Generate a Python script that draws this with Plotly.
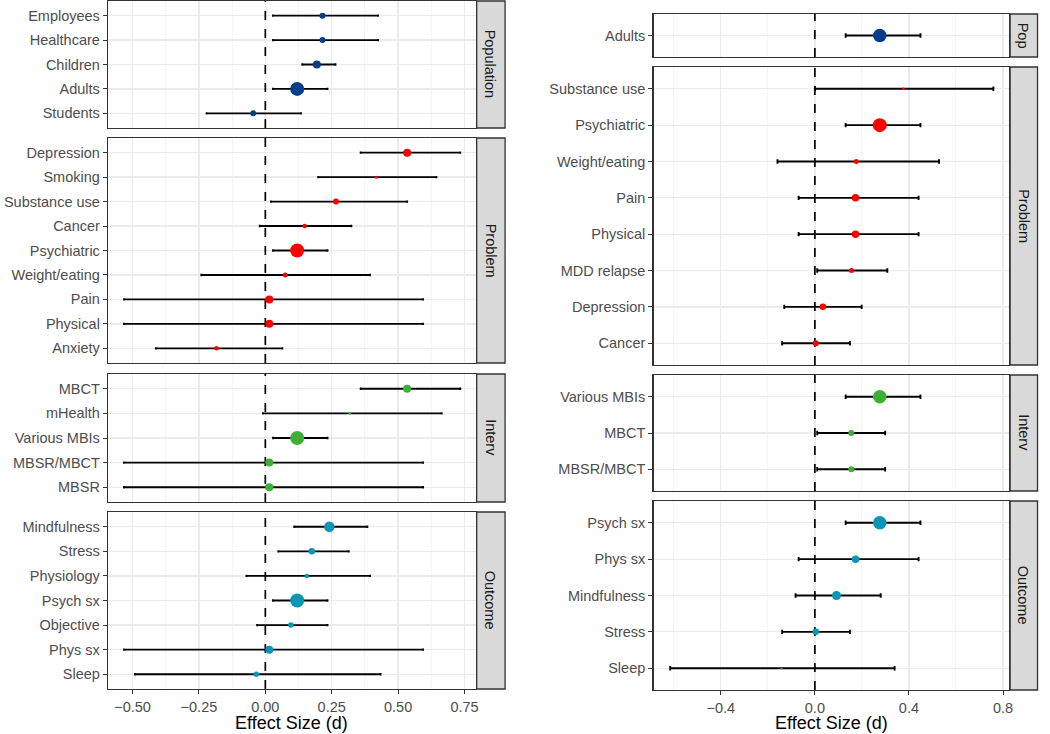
import plotly.graph_objects as go

# ---------------- data: left column ----------------
L_facets = ["Population", "Problem", "Interv", "Outcome"]

L_pop_cat = ["Employees", "Healthcare", "Children", "Adults", "Students"]
L_pop_d = [0.215, 0.215, 0.194, 0.12, -0.045]
L_pop_lo = [0.029, 0.029, 0.139, 0.029, -0.221]
L_pop_hi = [0.424, 0.424, 0.264, 0.234, 0.134]
L_pop_w = [6, 6, 8, 14, 6]

L_prob_cat = ["Depression", "Smoking", "Substance use", "Cancer", "Psychiatric",
              "Weight/eating", "Pain", "Physical", "Anxiety"]
L_prob_d = [0.534, 0.418, 0.266, 0.148, 0.12, 0.075, 0.015, 0.015, -0.184]
L_prob_lo = [0.359, 0.199, 0.021, -0.021, 0.029, -0.241, -0.532, -0.532, -0.412]
L_prob_hi = [0.734, 0.644, 0.534, 0.324, 0.234, 0.394, 0.594, 0.594, 0.064]
L_prob_w = [8, 3, 6, 4.5, 14, 5, 8, 8, 4.5]

L_int_cat = ["MBCT", "mHealth", "Various MBIs", "MBSR/MBCT", "MBSR"]
L_int_d = [0.534, 0.319, 0.12, 0.015, 0.015]
L_int_lo = [0.359, -0.009, 0.029, -0.532, -0.532]
L_int_hi = [0.734, 0.664, 0.234, 0.594, 0.594]
L_int_w = [8, 2.5, 14, 8, 8]

L_out_cat = ["Mindfulness", "Stress", "Physiology", "Psych sx", "Objective", "Phys sx", "Sleep"]
L_out_d = [0.241, 0.175, 0.156, 0.12, 0.096, 0.015, -0.034]
L_out_lo = [0.109, 0.049, -0.071, 0.029, -0.031, -0.532, -0.491]
L_out_hi = [0.384, 0.314, 0.394, 0.234, 0.234, 0.594, 0.434]
L_out_w = [10.5, 6.5, 4.5, 14, 5.5, 8, 5.5]

L_ticks = [-0.5, -0.25, 0.0, 0.25, 0.5, 0.75]
L_ticktext = ["\u22120.50", "\u22120.25", "0.00", "0.25", "0.50", "0.75"]

# ---------------- data: right column ----------------
R_facets = ["Pop", "Problem", "Interv", "Outcome"]

R_pop_cat = ["Adults"]
R_pop_d = [0.276]
R_pop_lo = [0.131]
R_pop_hi = [0.449]
R_pop_w = [13.5]

R_prob_cat = ["Substance use", "Psychiatric", "Weight/eating", "Pain", "Physical",
              "MDD relapse", "Depression", "Cancer"]
R_prob_d = [0.376, 0.276, 0.176, 0.173, 0.173, 0.156, 0.034, 0.004]
R_prob_lo = [0.0, 0.131, -0.159, -0.069, -0.069, 0.010, -0.130, -0.139]
R_prob_hi = [0.759, 0.449, 0.528, 0.441, 0.441, 0.308, 0.199, 0.149]
R_prob_w = [2.5, 14, 5, 7.5, 7.5, 5, 6.5, 6]

R_int_cat = ["Various MBIs", "MBCT", "MBSR/MBCT"]
R_int_d = [0.276, 0.155, 0.155]
R_int_lo = [0.131, 0.010, 0.010]
R_int_hi = [0.449, 0.299, 0.299]
R_int_w = [13.5, 6, 6]

R_out_cat = ["Psych sx", "Phys sx", "Mindfulness", "Stress", "Sleep"]
R_out_d = [0.276, 0.173, 0.092, 0.004, -0.142]
R_out_lo = [0.131, -0.069, -0.082, -0.139, -0.615]
R_out_hi = [0.449, 0.441, 0.280, 0.149, 0.339]
R_out_w = [13.5, 7.5, 9, 6.5, 2]

R_ticks = [-0.4, 0.0, 0.4, 0.8]
R_ticktext = ["\u22120.4", "0.0", "0.4", "0.8"]

facet_colors = ["#023e8a", "#ff0000", "#3cb035", "#0996b4"]

# ---------------- layout geometry (px) ----------------
W, H = 1050, 734
FONT = "Liberation Sans, Arial, sans-serif"

columns = [
    dict(
        facets=L_facets,
        panels=[
            (L_pop_cat, L_pop_d, L_pop_lo, L_pop_hi, L_pop_w),
            (L_prob_cat, L_prob_d, L_prob_lo, L_prob_hi, L_prob_w),
            (L_int_cat, L_int_d, L_int_lo, L_int_hi, L_int_w),
            (L_out_cat, L_out_d, L_out_lo, L_out_hi, L_out_w),
        ],
        x0=108.5, x1=477.5, sx1=507.0,
        ybounds=[(1, 128), (138, 363), (374, 502), (512, 689)],
        xrange=[-0.592, 0.792], ticks=L_ticks, ticktext=L_ticktext,
        dtick=0.25, cap=1.2,
    ),
    dict(
        facets=R_facets,
        panels=[
            (R_pop_cat, R_pop_d, R_pop_lo, R_pop_hi, R_pop_w),
            (R_prob_cat, R_prob_d, R_prob_lo, R_prob_hi, R_prob_w),
            (R_int_cat, R_int_d, R_int_lo, R_int_hi, R_int_w),
            (R_out_cat, R_out_d, R_out_lo, R_out_hi, R_out_w),
        ],
        x0=656.0, x1=1013.0, sx1=1041.5,
        ybounds=[(14, 57), (67, 365), (375, 491), (501, 690)],
        xrange=[-0.686, 0.826], ticks=R_ticks, ticktext=R_ticktext,
        dtick=0.4, cap=2.2,
    ),
]

fig = go.Figure()
layout = dict(
    width=W, height=H,
    margin=dict(l=0, r=0, t=0, b=0),
    paper_bgcolor="white", plot_bgcolor="white",
    showlegend=False,
    font=dict(family=FONT),
)
shapes = []
annotations = []

idx = 0
for col in columns:
    for p, (cats, d, lo, hi, w) in enumerate(col["panels"]):
        idx += 1
        xa = "xaxis" if idx == 1 else f"xaxis{idx}"
        ya = "yaxis" if idx == 1 else f"yaxis{idx}"
        xr = "x" if idx == 1 else f"x{idx}"
        yr = "y" if idx == 1 else f"y{idx}"
        top, bot = col["ybounds"][p]
        n = len(cats)
        ypos = [n - 1 - i for i in range(n)]  # first category at top
        is_bottom = p == len(col["panels"]) - 1

        layout[xa] = dict(
            domain=[col["x0"] / W, col["x1"] / W],
            anchor=yr,
            range=col["xrange"],
            tickmode="array", tickvals=col["ticks"], ticktext=col["ticktext"],
            showticklabels=is_bottom,
            ticks="outside" if is_bottom else "", ticklen=4, tickcolor="#333333", tickwidth=1,
            tickfont=dict(size=14.5, color="#4d4d4d", family=FONT),
            showgrid=True, gridcolor="#ebebeb", gridwidth=1.3,
            minor=dict(showgrid=True, gridcolor="#f2f2f2", gridwidth=0.8,
                       tick0=0, dtick=col["dtick"] / 2),
            showline=True, mirror=True, linecolor="#333333", linewidth=1.3,
            zeroline=False, fixedrange=True,
        )
        layout[ya] = dict(
            domain=[1 - bot / H, 1 - top / H],
            anchor=xr,
            range=[-0.6, n - 0.4],
            tickmode="array", tickvals=ypos, ticktext=cats,
            ticks="outside", ticklen=4, tickcolor="#333333", tickwidth=1,
            tickfont=dict(size=14.5, color="#4d4d4d", family=FONT),
            showgrid=True, gridcolor="#ebebeb", gridwidth=1.3,
            showline=True, mirror=True, linecolor="#333333", linewidth=1.3,
            zeroline=False, fixedrange=True,
        )

        # dashed reference line at zero (drawn before the points)
        fig.add_trace(go.Scatter(
            x=[0, 0], y=[-0.6, n - 0.4], xaxis=xr, yaxis=yr,
            mode="lines", line=dict(color="black", width=1.7, dash="dash"),
            hoverinfo="skip", cliponaxis=True,
        ))

        fig.add_trace(go.Scatter(
            x=d, y=ypos, xaxis=xr, yaxis=yr,
            mode="markers", opacity=1,
            marker=dict(size=w, color=facet_colors[p], opacity=1, line=dict(width=0)),
            error_x=dict(
                type="data", symmetric=False,
                array=[h - m for h, m in zip(hi, d)],
                arrayminus=[m - l for m, l in zip(d, lo)],
                color="black", thickness=1.9, width=col["cap"],
            ),
            hoverinfo="skip",
        ))

        # facet strip
        shapes.append(dict(
            type="rect", xref="paper", yref="paper",
            x0=(col["x1"] + 1) / W, x1=col["sx1"] / W,
            y0=1 - bot / H, y1=1 - top / H,
            fillcolor="#d9d9d9", line=dict(color="#333333", width=1.3),
            layer="below",
        ))
        annotations.append(dict(
            xref="paper", yref="paper",
            x=((col["x1"] + 1 + col["sx1"]) / 2) / W,
            y=1 - ((top + bot) / 2) / H,
            text=col["facets"][p], textangle=90, showarrow=False,
            xanchor="center", yanchor="middle",
            font=dict(size=14.5, color="#1a1a1a", family=FONT),
        ))

    # axis title
    annotations.append(dict(
        xref="paper", yref="paper",
        x=((col["x0"] + col["x1"]) / 2) / W, y=1 - 723 / H,
        text="Effect Size (d)", showarrow=False,
        xanchor="center", yanchor="middle",
        font=dict(size=18, color="black", family=FONT),
    ))

layout["shapes"] = shapes
layout["annotations"] = annotations
fig.update_layout(**layout)
fig.write_html(
    "out.html",
    config={"displayModeBar": False, "staticPlot": True},
    post_script="document.body.style.margin='0px';document.body.style.overflow='hidden';",
)
